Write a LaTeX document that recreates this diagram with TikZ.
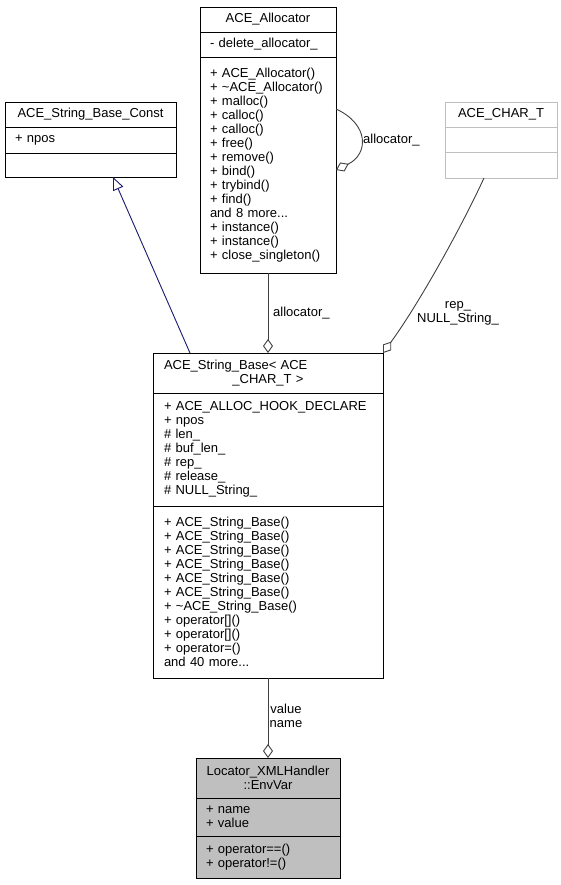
\documentclass[tikz,border=0pt]{standalone}
\usepackage{fontspec}
\setmainfont{Liberation Sans}
\usetikzlibrary{positioning,arrows.meta}
\definecolor{edgegray}{HTML}{404040}
\definecolor{inhblue}{HTML}{191970}
\definecolor{boxgray}{HTML}{BFBFBF}
\tikzset{
  every node/.style={font=\fontsize{13}{14}\selectfont},
  hdr/.style={draw, fill=white, line width=0.9pt, outer sep=0pt, inner xsep=10pt, inner ysep=0pt, align=center},
  mbr/.style={hdr, align=left},
  agg/.style={draw=edgegray, line width=0.9pt, -{Diamond[open, length=14pt, width=10pt]}},
  inh/.style={draw=inhblue, line width=0.9pt, -{Triangle[open, length=13pt, width=11pt]}},
  lbl/.style={inner sep=0pt}
}
\begin{document}
\begin{tikzpicture}[x=1pt, y=-1pt]
\useasboundingbox (0,0) rectangle (561,885);

\node[hdr, text width=151pt, minimum height=25pt, anchor=north west] (constH) at (5,102) {ACE\_String\_Base\_Const};
\node[mbr, text width=151pt, minimum height=26pt, below=0pt of constH] (constA) {+ npos};
\node[mbr, text width=151pt, minimum height=24pt, below=0pt of constA] (constM) {};

\node[hdr, text width=116pt, minimum height=25pt, anchor=north west] (allocH) at (200,7) {ACE\_Allocator};
\node[mbr, text width=116pt, minimum height=25pt, below=0pt of allocH] (allocA) {- delete\_allocator\_};
\node[mbr, text width=116pt, minimum height=216pt, below=0pt of allocA] (allocM) {+ ACE\_Allocator()\\
+ \textasciitilde ACE\_Allocator()\\
+ malloc()\\
+ calloc()\\
+ calloc()\\
+ free()\\
+ remove()\\
+ bind()\\
+ trybind()\\
+ find()\\
and 8 more...\\
+ instance()\\
+ instance()\\
+ close\_singleton()};

\node[hdr, draw=boxgray, text width=92pt, minimum height=25pt, anchor=north west] (charH) at (445,102) {ACE\_CHAR\_T};
\node[mbr, draw=boxgray, text width=92pt, minimum height=25pt, below=0pt of charH] (charA) {};
\node[mbr, draw=boxgray, text width=92pt, minimum height=26pt, below=0pt of charA] (charM) {};

\node[hdr, text width=208pt, inner xsep=11pt, minimum height=40pt, anchor=north west] (baseH) at (153,353) {ACE\_String\_Base< ACE\hfill\null\\\_CHAR\_T >};
\node[mbr, text width=208pt, inner xsep=11pt, minimum height=113pt, below=0pt of baseH] (baseA) {+ ACE\_ALLOC\_HOOK\_DECLARE\\
+ npos\\
\# len\_\\
\# buf\_len\_\\
\# rep\_\\
\# release\_\\
\# NULL\_String\_};
\node[mbr, text width=208pt, inner xsep=11pt, minimum height=172pt, below=0pt of baseA] (baseM) {+ ACE\_String\_Base()\\
+ ACE\_String\_Base()\\
+ ACE\_String\_Base()\\
+ ACE\_String\_Base()\\
+ ACE\_String\_Base()\\
+ ACE\_String\_Base()\\
+ \textasciitilde ACE\_String\_Base()\\
+ operator[]()\\
+ operator[]()\\
+ operator=()\\
and 40 more...};

\node[hdr, fill=boxgray, text width=124pt, minimum height=40pt, anchor=north west] (envH) at (196,758) {Locator\_XMLHandler\\::EnvVar};
\node[mbr, fill=boxgray, text width=124pt, minimum height=38pt, below=0pt of envH] (envA) {+ name\\
+ value};
\node[mbr, fill=boxgray, text width=124pt, minimum height=42pt, below=0pt of envA] (envM) {+ operator==()\\
+ operator!=()};

\draw[inh] ([xshift=37pt]baseH.north west) -- ([xshift=22.5pt]constM.south);
\draw[agg] (allocM.south) -- (baseH.north);
\draw[agg] ([yshift=-52pt]allocM.north east) .. controls (369,124) and (369,154) .. ([yshift=-113pt]allocM.north east);
\draw[agg] ([xshift=-17pt]charM.south) .. controls (460,230) and (418,305) .. (baseH.north east);
\draw[agg] (baseM.south) -- (envH.north);

\node[lbl, anchor=west] (allocLbl) at (273,313) {allocator\_};
\node[lbl, anchor=west] (selfLbl) at (363,140) {allocator\_};
\node[lbl, align=center] (repLbl) at (458,313) {rep\_\\NULL\_String\_};
\node[lbl, align=center] (envLbl) at (286,716) {value\\name};
\end{tikzpicture}
\end{document}
